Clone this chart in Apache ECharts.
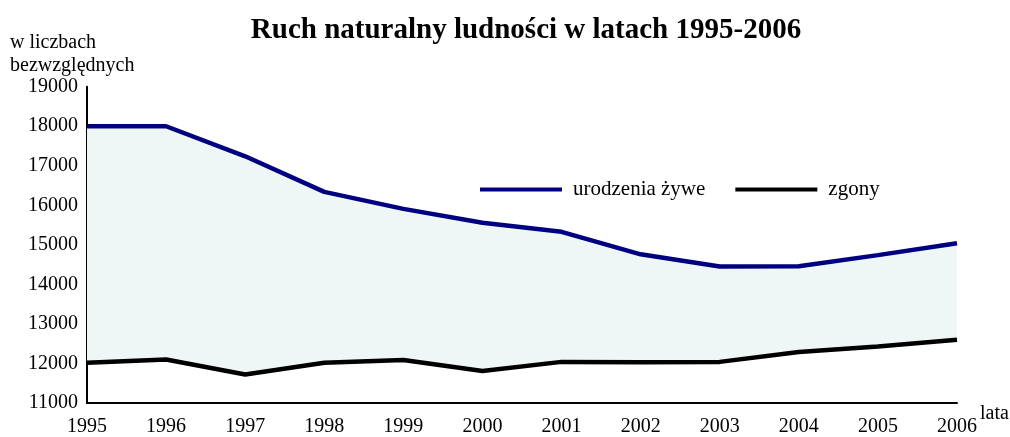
<!DOCTYPE html>
<html>
<head>
<meta charset="utf-8">
<script src="https://cdn.jsdelivr.net/npm/echarts@6/dist/echarts.min.js"></script>
<style>html,body{margin:0;padding:0;background:#fff;}#c{width:1010px;height:437px;}</style>
</head>
<body>
<div id="c"></div>
<script>
var years = ['1995','1996','1997','1998','1999','2000','2001','2002','2003','2004','2005','2006'];
var urodzenia = [18000, 18000, 17240, 16340, 15910, 15560, 15330, 14760, 14450, 14460, 14740, 15040];
var zgony = [12020, 12100, 11720, 12020, 12090, 11810, 12040, 12030, 12040, 12290, 12430, 12600];
var yTicks = [11000, 12000, 13000, 14000, 15000, 16000, 17000, 18000, 19000];

var diff = urodzenia.map(function (v, i) { return v - zgony[i]; });
var serif = '"Liberation Serif","DejaVu Serif",serif';

var chart = echarts.init(document.getElementById('c'), null, {renderer: 'canvas'});
chart.setOption({
  animation: false,
  backgroundColor: '#fff',
  title: {
    text: 'Ruch naturalny ludności w latach 1995-2006',
    left: 521, top: 11, textAlign: 'center',
    textStyle: {fontFamily: serif, fontSize: 29, fontWeight: 'bold', color: '#000'}
  },
  legend: {
    left: 475, top: 174,
    data: ['urodzenia żywe', 'zgony'],
    icon: 'rect', itemWidth: 82, itemHeight: 4, itemGap: 30,
    textStyle: {fontFamily: serif, fontSize: 21, color: '#000', padding: [0, 0, 0, 6]}
  },
  grid: {left: 87, right: 53, top: 86.7, bottom: 30.8, containLabel: false},
  xAxis: {
    type: 'category', data: years, boundaryGap: false,
    axisLine: {lineStyle: {color: '#000', width: 2}},
    axisTick: {show: false},
    axisLabel: {fontFamily: serif, fontSize: 20, color: '#000', margin: 14},
    splitLine: {show: false}
  },
  yAxis: {
    type: 'value', min: yTicks[0], max: yTicks[yTicks.length - 1], interval: 1000,
    axisLine: {show: true, lineStyle: {color: '#000', width: 2}},
    axisTick: {show: false},
    axisLabel: {fontFamily: serif, fontSize: 20, color: '#000', margin: 9, padding: [5, 0, 0, 0],
      formatter: function (v) { return String(v); }},
    splitLine: {show: false}
  },
  graphic: [
    {type: 'text', left: 10, top: 31, style: {text: 'w liczbach\nbezwzględnych', font: '20px ' + serif, fill: '#000', lineHeight: 23}},
    {type: 'text', left: 980, top: 404, style: {text: 'lata', font: '20px ' + serif, fill: '#000'}},
    {type: 'text', left: 328, top: 294, style: {text: 'PRZYROST NATURALNY', font: 'bold 12px ' + serif, fill: '#000'}}
  ],
  series: [
    {name: 'base', type: 'line', stack: 'a', data: zgony, symbol: 'none', silent: true,
     lineStyle: {opacity: 0}, areaStyle: {opacity: 0}},
    {name: 'diff', type: 'line', stack: 'a', data: diff, symbol: 'none', silent: true,
     lineStyle: {opacity: 0}, areaStyle: {color: '#eff6f6', opacity: 1}},
    {name: 'urodzenia żywe', type: 'line', data: urodzenia, symbol: 'none', color: '#000080',
     lineStyle: {color: '#000080', width: 4.5}, z: 5},
    {name: 'zgony', type: 'line', data: zgony, symbol: 'none', color: '#000',
     lineStyle: {color: '#000', width: 4.5}, z: 5}
  ]
});
</script>
</body>
</html>
